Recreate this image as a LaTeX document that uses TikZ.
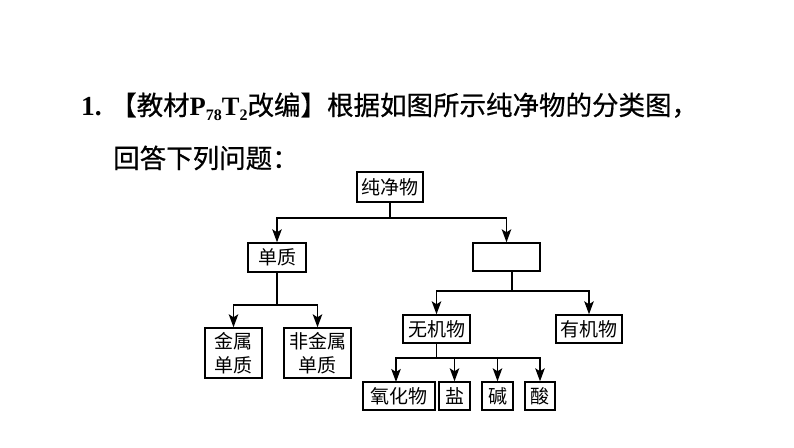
\documentclass[tikz,border=0pt]{standalone}
\usepackage{fontspec}
\setmainfont{Noto Sans CJK SC}
\newfontfamily\ttlfont{Noto Sans CJK SC}[FakeBold=0.6]
\newfontfamily\tnr{Liberation Serif}
\usetikzlibrary{arrows.meta}
\begin{document}
\begin{tikzpicture}[x=1pt,y=-1pt,
  ln/.style={line width=1.5pt},
  arr/.style={ln,-{Stealth[length=13pt,width=9.5pt,inset=3pt]}},
  box/.style={draw,line width=1.4pt,inner sep=0pt,font=\fontsize{19}{23.5}\selectfont,align=center,minimum height=28pt},
  ttl/.style={inner sep=0pt,anchor=base west,font=\ttlfont\fontsize{26.5}{30}\selectfont}]
\useasboundingbox (0,0) rectangle (794,447);
% title
\node[ttl,font=\tnr\bfseries\fontsize{27.5}{30}\selectfont] (num) at (81,115) {1.};
\node[ttl] (t1) at (110,115) {【教材{\tnr\bfseries P\raisebox{-5pt}{\fontsize{16}{16}\selectfont 78}T\raisebox{-5pt}{\fontsize{16}{16}\selectfont 2}}改编】根据如图所示纯净物的分类图，};
\node[ttl] (t2) at (113,168) {回答下列问题：};
% boxes
\node[box,minimum width=66pt,minimum height=30pt] (pure) at (390,187) {纯净物};
\node[box,minimum width=58pt,minimum height=29pt] (dz) at (277,257.5) {单质};
\node[box,minimum width=67pt] (cp) at (506.5,257) {};
\node[box,minimum width=57pt,minimum height=50pt] (jsdz) at (233.5,353) {金属\\单质};
\node[box,minimum width=67pt,minimum height=50pt] (fjs) at (317.5,353) {非金属\\单质};
\node[box,minimum width=67pt] (wjw) at (436.5,329) {无机物};
\node[box,minimum width=66pt] (yjw) at (589,329) {有机物};
\node[box,minimum width=72pt] (yhw) at (399,396) {氧化物};
\node[box,minimum width=31pt] (yan) at (454.5,396) {盐};
\node[box,minimum width=31pt] (jian) at (497.5,396) {碱};
\node[box,minimum width=30pt] (suan) at (540,396) {酸};
% connectors
\coordinate (b1) at (390,218);
\coordinate (b2) at (277,305);
\coordinate (b3) at (512,291);
\coordinate (b4) at (436.5,358);
\coordinate (yhwtop) at (396,382);
\draw[ln] (pure.south) -- (b1);
\draw[arr] (b1) -| (dz.north);
\draw[arr] (b1) -| (cp.north);
\draw[ln] (dz.south) -- (b2);
\draw[arr] (b2) -| (jsdz.north);
\draw[arr] (b2) -| (fjs.north);
\draw[ln] (cp.south -| b3) -- (b3);
\draw[arr] (b3) -| (wjw.north);
\draw[arr] (b3) -| (yjw.north);
\draw[ln] (wjw.south) -- (b4);
\draw[arr] (b4) -| (yhwtop);
\draw[arr] (b4) -| (yan.north);
\draw[arr] (b4) -| (jian.north);
\draw[arr] (b4) -| (suan.north);
\end{tikzpicture}
\end{document}
